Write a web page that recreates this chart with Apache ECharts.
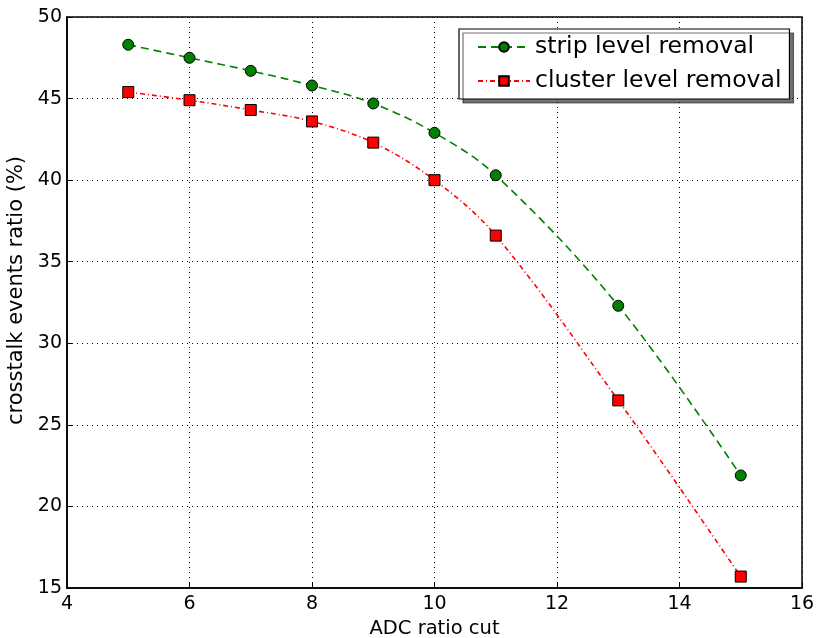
<!DOCTYPE html>
<html>
<head>
<meta charset="utf-8">
<script src="https://cdn.jsdelivr.net/npm/echarts@6/dist/echarts.min.js"></script>
<style>
  html, body { margin: 0; padding: 0; background: #fff; }
  #myChart { width: 820px; height: 638px; }
</style>
</head>
<body>
<div id="myChart"></div>
<script>
var adcCut = [5, 6, 7, 8, 9, 10, 11, 13, 15];
var stripRemoval = [48.3, 47.5, 46.7, 45.8, 44.7, 42.9, 40.3, 32.3, 21.9];
var clusterRemoval = [45.4, 44.9, 44.3, 43.6, 42.3, 40.0, 36.6, 26.5, 15.7];

function pairs(xs, ys) {
  return xs.map(function (x, i) { return [x, ys[i]]; });
}

var font = 'DejaVu Sans';
var myChart = echarts.init(document.getElementById('myChart'));

var option = {
  backgroundColor: '#fff',
  textStyle: { fontFamily: font },
  grid: {
    left: 67, right: 18, top: 17, bottom: 50,
    outerBoundsMode: 'none', containLabel: false,
    show: true, borderColor: '#000', borderWidth: 1.5
  },
  legend: {
    left: 459, top: 29,
    orient: 'vertical',
    itemWidth: 52, itemHeight: 12, itemGap: 10,
    padding: [6, 8, 6, 18],
    backgroundColor: '#fff',
    borderColor: '#000', borderWidth: 1.2,
    shadowColor: 'rgba(0,0,0,0.55)', shadowOffsetX: 4, shadowOffsetY: 4, shadowBlur: 0,
    textStyle: { fontFamily: font, fontSize: 23.5, color: '#000' },
    data: ['strip level removal', 'cluster level removal']
  },
  xAxis: {
    type: 'value', min: 4, max: 16, interval: 2,
    name: 'ADC ratio cut', nameLocation: 'middle', nameGap: 31,
    nameTextStyle: { fontFamily: font, fontSize: 19.5, color: '#000' },
    axisLine: { lineStyle: { color: '#000', width: 1.5 } },
    axisTick: { inside: true, length: 5, lineStyle: { color: '#000' } },
    axisLabel: { fontFamily: font, fontSize: 19, color: '#000', margin: 7 },
    splitLine: { lineStyle: { color: '#000', type: [1, 4], width: 1 } }
  },
  yAxis: {
    type: 'value', min: 15, max: 50, interval: 5,
    name: 'crosstalk events ratio (%)', nameLocation: 'middle', nameGap: 36,
    nameTextStyle: { fontFamily: font, fontSize: 21, color: '#000', padding: [0, 0, 0, 24] },
    axisLine: { lineStyle: { color: '#000', width: 1.5 } },
    axisTick: { inside: true, length: 5, lineStyle: { color: '#000' } },
    axisLabel: { fontFamily: font, fontSize: 19, color: '#000', margin: 5 },
    splitLine: { lineStyle: { color: '#000', type: [1, 4], width: 1 } }
  },
  series: [{
    name: 'strip level removal',
    type: 'line',
    smooth: 0.35,
    data: pairs(adcCut, stripRemoval),
    symbol: 'circle', symbolSize: 11,
    itemStyle: { color: '#007f00', borderColor: '#000', borderWidth: 1 },
    lineStyle: { color: '#007f00', width: 1.6, type: [8, 5] },
    z: 3
  }, {
    name: 'cluster level removal',
    type: 'line',
    smooth: 0.35,
    data: pairs(adcCut, clusterRemoval),
    symbol: 'rect', symbolSize: 11,
    itemStyle: { color: '#ff0000', borderColor: '#000', borderWidth: 1 },
    lineStyle: { color: '#ff0000', width: 1.6, type: [5, 3, 1, 3] },
    z: 3
  }]
};
myChart.setOption(option);
</script>
</body>
</html>
